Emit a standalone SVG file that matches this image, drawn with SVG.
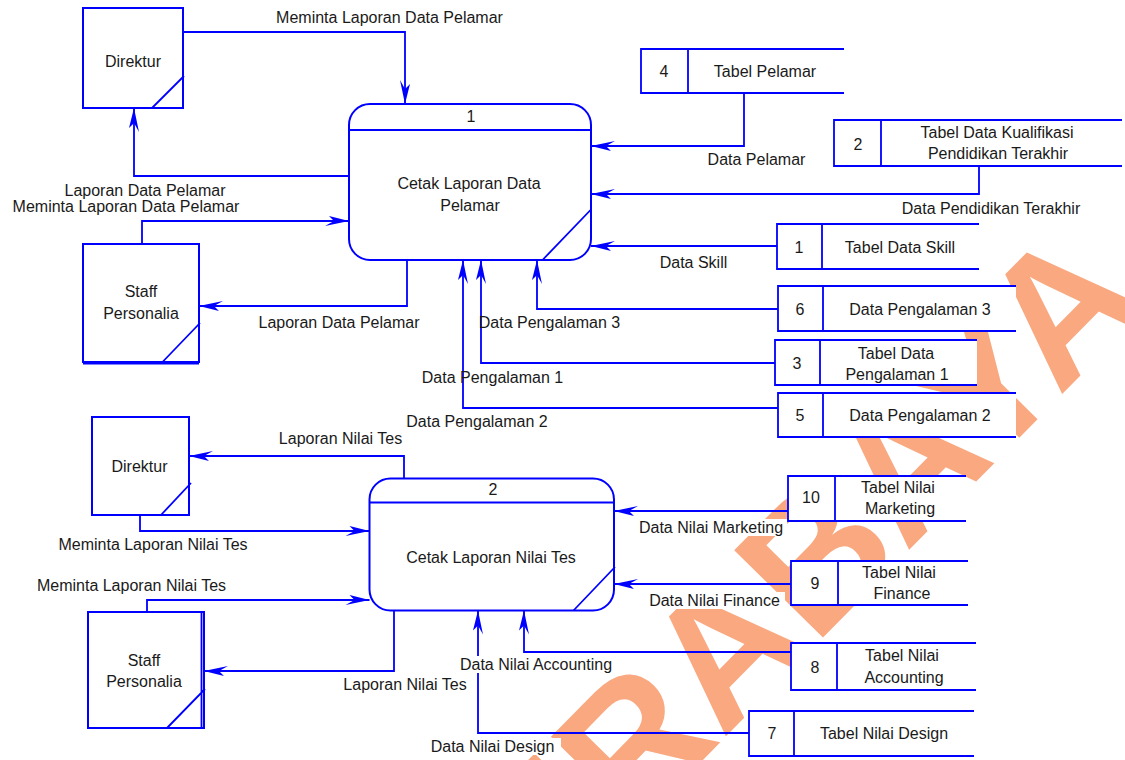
<svg xmlns="http://www.w3.org/2000/svg" width="1125" height="760" viewBox="0 0 1125 760">
  <style>
    .shape { stroke: #0000FF; stroke-width: 2; fill: #FFFFFF; }
    .edge { stroke: #0000FF; stroke-width: 1.8; fill: none; }
    .flow { stroke: #0000FF; stroke-width: 1.8; fill: none; marker-end: url(#head); }
    text { font-family: "Liberation Sans", Arial, sans-serif; font-size: 16px; fill: #1A1A1A; text-anchor: middle; }
    .mark { font-family: "Liberation Sans", Arial, sans-serif; font-size: 181px; font-weight: bold; fill: #F9A880; text-anchor: start; }
    .bg { fill: #FFFFFF; }
  </style>
  <defs>
    <marker id="head" markerUnits="userSpaceOnUse" viewBox="-30 -10 32 20" refX="0" refY="0" markerWidth="32" markerHeight="20" orient="auto" overflow="visible">
      <path d="M0,0 L-20,-5 L-15,0 L-24,5 Z" fill="#0000FF"/>
    </marker>
  </defs>

  <rect width="1125" height="760" fill="#FFFFFF"/>

  <!-- background lettering -->
  <text class="mark" transform="translate(455,1012) rotate(-45.5)">SURABAYA</text>

  <!-- external entities -->
  <g id="direktur-1">
    <rect class="shape" x="83" y="8" width="100" height="100"/>
    <path class="edge" d="M152,108 L184,76"/>
    <text x="133" y="66.5">Direktur</text>
  </g>
  <g id="staff-1">
    <rect class="shape" x="83" y="244" width="116" height="118"/>
    <path class="edge" d="M83,363.5 H199 M162.5,362 L200,323"/>
    <text x="141" y="297">Staff</text>
    <text x="141" y="319">Personalia</text>
  </g>
  <g id="direktur-2">
    <rect class="shape" x="92" y="417" width="97" height="98"/>
    <path class="edge" d="M161,515 L191,483"/>
    <text x="139.5" y="472">Direktur</text>
  </g>
  <g id="staff-2">
    <rect class="shape" x="88" y="612" width="116" height="116"/>
    <path class="edge" d="M201.5,612 V728 M167,728 L205,689"/>
    <text x="144" y="665.5">Staff</text>
    <text x="144" y="687">Personalia</text>
  </g>

  <!-- processes -->
  <g id="process-1">
    <rect class="shape" x="349" y="104" width="242" height="156" rx="21" ry="21"/>
    <path class="edge" d="M349,130 H591 M542.5,260 L591.5,209"/>
    <text x="471" y="122">1</text>
    <text x="469" y="189">Cetak Laporan Data</text>
    <text x="470" y="210.5">Pelamar</text>
  </g>
  <g id="process-2">
    <rect class="shape" x="369.5" y="478.5" width="244.5" height="132" rx="21" ry="21"/>
    <path class="edge" d="M369.5,502.5 H614 M573.5,610.5 L615,567"/>
    <text x="493" y="495">2</text>
    <text x="491" y="563">Cetak Laporan Nilai Tes</text>
  </g>

  <!-- data stores -->
  <g id="store-4">
    <rect class="bg" x="641" y="49" width="203" height="44"/>
    <path class="edge" d="M844,49 H641 V93 H844 M688,49 V93"/>
    <text x="664" y="77">4</text>
    <text x="765" y="77">Tabel Pelamar</text>
  </g>
  <g id="store-2">
    <rect class="bg" x="834" y="120" width="288" height="46"/>
    <path class="edge" d="M1122,120 H834 V166 H1122 M881,120 V166"/>
    <text x="858" y="149.5">2</text>
    <text x="997" y="137.5">Tabel Data Kualifikasi</text>
    <text x="998" y="158.5">Pendidikan Terakhir</text>
  </g>
  <g id="store-1">
    <rect class="bg" x="777" y="224" width="202" height="45"/>
    <path class="edge" d="M979,224 H777 V269 H979 M822,224 V269"/>
    <text x="799" y="252.5">1</text>
    <text x="900" y="252.5">Tabel Data Skill</text>
  </g>
  <g id="store-6">
    <rect class="bg" x="778" y="286" width="238" height="45"/>
    <path class="edge" d="M1016,286 H778 V331 H1016 M823,286 V331"/>
    <text x="800" y="314.5">6</text>
    <text x="920" y="314.5">Data Pengalaman 3</text>
  </g>
  <g id="store-3">
    <rect class="bg" x="775" y="340" width="202" height="45"/>
    <path class="edge" d="M977,340 H775 V385 H977 M820,340 V385"/>
    <text x="797" y="368.5">3</text>
    <text x="896" y="358.5">Tabel Data</text>
    <text x="897" y="379.5">Pengalaman 1</text>
  </g>
  <g id="store-5">
    <rect class="bg" x="778" y="393" width="238" height="44"/>
    <path class="edge" d="M1016,393 H778 V437 H1016 M823,393 V437"/>
    <text x="800" y="420.5">5</text>
    <text x="920" y="420.5">Data Pengalaman 2</text>
  </g>
  <g id="store-10">
    <rect class="bg" x="788" y="476" width="178" height="45"/>
    <path class="edge" d="M966,476 H788 V521 H966 M835,476 V521"/>
    <text x="811" y="502.5">10</text>
    <text x="898" y="492.5">Tabel Nilai</text>
    <text x="900" y="513.5">Marketing</text>
  </g>
  <g id="store-9">
    <rect class="bg" x="791" y="561" width="177" height="44"/>
    <path class="edge" d="M968,561 H791 V605 H968 M838,561 V605"/>
    <text x="815" y="588.5">9</text>
    <text x="899" y="577.5">Tabel Nilai</text>
    <text x="902" y="598.5">Finance</text>
  </g>
  <g id="store-8">
    <rect class="bg" x="791" y="643" width="185" height="47"/>
    <path class="edge" d="M976,643 H791 V690 H976 M837,643 V690"/>
    <text x="815" y="672.5">8</text>
    <text x="902" y="660.5">Tabel Nilai</text>
    <text x="904" y="682.5">Accounting</text>
  </g>
  <g id="store-7">
    <rect class="bg" x="749" y="711" width="225" height="45"/>
    <path class="edge" d="M974,711 H749 V756 H974 M794,711 V756"/>
    <text x="772" y="738.5">7</text>
    <text x="884" y="738.5">Tabel Nilai Design</text>
  </g>

  <!-- data flows -->
  <g id="connectors">
    <path class="flow" d="M183,32 H405 V104"/>
    <path class="flow" d="M349,176 H134 V108"/>
    <path class="flow" d="M142,244 V221 H349"/>
    <path class="flow" d="M407,260 V306 H199"/>
    <path class="flow" d="M744,93 V146 H591"/>
    <path class="flow" d="M979,166 V194 H591"/>
    <path class="flow" d="M777,246 H591"/>
    <path class="flow" d="M778,309 H537 V260"/>
    <path class="flow" d="M775,363 H481 V260"/>
    <path class="flow" d="M778,408 H463 V260"/>
    <path class="flow" d="M404,478.5 V456 H189"/>
    <path class="flow" d="M140,515 V531 H369.5"/>
    <path class="flow" d="M147,612 V600 H369.5"/>
    <path class="flow" d="M394,610.5 V671 H204"/>
    <path class="flow" d="M788,511 H614"/>
    <path class="flow" d="M791,584 H614"/>
    <path class="flow" d="M791,652 H524 V610.5"/>
    <path class="flow" d="M749,733 H478 V610.5"/>
  </g>

  <!-- flow labels -->
  <g id="labels">
    <text x="389.5" y="23">Meminta Laporan Data Pelamar</text>
    <text x="145" y="195.5">Laporan Data Pelamar</text>
    <text x="126" y="212">Meminta Laporan Data Pelamar</text>
    <text x="339" y="328">Laporan Data Pelamar</text>
    <text x="756.5" y="164.5">Data Pelamar</text>
    <text x="991" y="213.5">Data Pendidikan Terakhir</text>
    <text x="693.5" y="267.5">Data Skill</text>
    <text x="549.5" y="328">Data Pengalaman 3</text>
    <text x="492.5" y="382.5">Data Pengalaman 1</text>
    <text x="477" y="427">Data Pengalaman 2</text>
    <text x="340.5" y="443.5">Laporan Nilai Tes</text>
    <text x="153" y="549.5">Meminta Laporan Nilai Tes</text>
    <text x="131.5" y="590.5">Meminta Laporan Nilai Tes</text>
    <text x="405" y="689.5">Laporan Nilai Tes</text>
    <rect class="bg" x="634" y="519" width="153" height="17"/>
    <text x="711" y="533">Data Nilai Marketing</text>
    <rect class="bg" x="644" y="592" width="141" height="17"/>
    <text x="714.5" y="605.5">Data Nilai Finance</text>
    <rect class="bg" x="455" y="656" width="162" height="17"/>
    <text x="536" y="669.5">Data Nilai Accounting</text>
    <rect class="bg" x="424" y="738" width="137" height="17"/>
    <text x="492.5" y="752">Data Nilai Design</text>
  </g>
</svg>
